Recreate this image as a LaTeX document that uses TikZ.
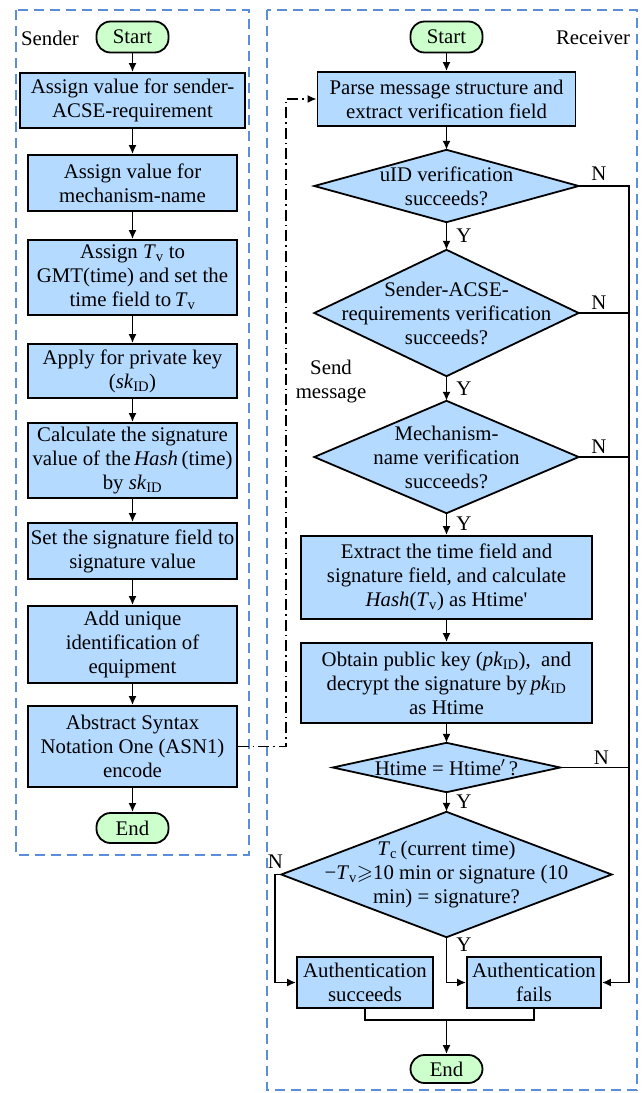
\documentclass[tikz,border=0pt]{standalone}
\usepackage{amssymb}
\usepackage{fontspec}
\setmainfont{Liberation Serif}
\usepackage{tikz}
\usetikzlibrary{positioning,arrows.meta,backgrounds}

\definecolor{procblue}{RGB}{180,218,255}
\definecolor{termgreen}{RGB}{204,255,204}
\definecolor{laneblue}{RGB}{90,142,216}

\tikzset{
  proc/.style={rectangle, draw, line width=1.8pt, fill=procblue, align=center, inner sep=2pt},
  term/.style={rectangle, rounded corners=14pt, draw, line width=1.8pt, fill=termgreen,
    minimum width=72pt, minimum height=31pt, inner sep=1pt},
  decide/.style={rectangle, align=center, inner sep=0pt},
  decfill/.style={draw, line width=1.8pt, fill=procblue, line join=miter},
  lane/.style={draw=laneblue, line width=1.6pt, dash pattern=on 10pt off 6pt},
  flow/.style={->, line width=1.7pt},
  plain/.style={line width=1.7pt},
  yn/.style={inner sep=2pt},
  sendline/.style={->, line width=1.7pt, dash pattern=on 11pt off 4pt on 1.5pt off 4pt},
}

\begin{document}
\begin{tikzpicture}[x=1pt, y=-1pt, >={Latex[length=9pt,width=8pt]},
    every node/.style={font=\fontsize{20.8}{24}\selectfont}]
  \useasboundingbox (0,0) rectangle (642,1093);

  % lanes
  \draw[lane] (16,10) rectangle (249,855);
  \draw[lane] (267,10) rectangle (637,1090);
  \node (sendertxt) at (50,38) {Sender};
  \node (recvtxt) at (593,38) {Receiver};

  % sender side
  \node[term] (sstart) at (132.5,37) {Start};
  \node[proc, minimum width=225pt, minimum height=55pt] (s1) at (132.5,100.5) {Assign value for sender-\\ACSE-requirement};
  \node[proc, minimum width=209pt, minimum height=56pt] (s2) at (132.5,183) {Assign value for\\mechanism-name};
  \node[proc, minimum width=209pt, minimum height=75pt] (s3) at (132.5,277.5) {Assign \textit{T}\textsubscript{v} to\\GMT(time) and set the\\time field to\,\textit{T}\textsubscript{v}};
  \node[proc, minimum width=209pt, minimum height=54pt] (s4) at (132.5,371) {Apply for private key\\(\textit{sk}\textsubscript{ID})};
  \node[proc, minimum width=209pt, minimum height=75pt] (s5) at (132.5,460.5) {Calculate the signature\\value of the\,\textit{Hash}\,(time)\\by \textit{sk}\textsubscript{ID}};
  \node[proc, minimum width=209pt, minimum height=56pt] (s6) at (132.5,551) {Set the signature field to\\signature value};
  \node[proc, minimum width=209pt, minimum height=77pt] (s7) at (132.5,644.5) {Add unique\\identification of\\equipment};
  \node[proc, minimum width=209pt, minimum height=81pt] (s8) at (132.5,746.5) {Abstract Syntax\\Notation One (ASN1)\\encode};
  \node[term, minimum height=30pt] (send) at (132.5,828) {End};

  % receiver side
  \node[term] (rstart) at (446.5,37) {Start};
  \node[proc, minimum width=258pt, minimum height=54pt] (r1) at (446.5,99) {Parse message structure and\\extract verification field};
  \node[decide, minimum width=264pt, minimum height=72pt] (d1) at (446.5,186) {uID verification\\succeeds?};
  \node[decide, minimum width=264pt, minimum height=126pt] (d2) at (446.5,313) {Sender-ACSE-\\requirements verification\\succeeds?};
  \node[decide, minimum width=264pt, minimum height=112pt] (d3) at (446.5,457) {Mechanism-\\name verification\\succeeds?};
  \node[proc, minimum width=291pt, minimum height=83pt] (r2) at (446.5,577.5) {Extract the time field and\\signature field, and calculate\\\textit{Hash}(\textit{T}\textsubscript{v}) as Htime\textquotesingle};
  \node[proc, minimum width=291pt, minimum height=80pt] (r3) at (446.5,683) {Obtain public key (\textit{pk}\textsubscript{ID}),~ and\\decrypt the signature by\,\textit{pk}\textsubscript{ID}\\as Htime};
  \node[decide, minimum width=227pt, minimum height=49pt] (d4) at (446.5,767.5) {Htime = Htime$'$\,?};
  \node[decide, minimum width=330pt, minimum height=125pt] (d5) at (446.5,874.5) {\textit{T}\textsubscript{c}\,(current time)\\−\textit{T}\textsubscript{v}$\geqslant$10 min or signature (10\\min) = signature?};
  \node[proc, minimum width=136pt, minimum height=51pt] (succ) at (365,982.5) {Authentication\\succeeds};
  \node[proc, minimum width=134pt, minimum height=51pt] (fail) at (534,982.5) {Authentication\\fails};
  \node[term, minimum height=28pt] (rend) at (446.5,1069) {End};

  \begin{scope}[on background layer]
    \foreach \d in {d1,d2,d3,d4,d5}
      \draw[decfill] (\d.north) -- (\d.east) -- (\d.south) -- (\d.west) -- cycle;
  \end{scope}

  \coordinate (ncorner) at (629,982.5);
  \coordinate (merge) at (446.5,1020);
  \coordinate (sm1) at (286,746.5);
  \coordinate (sm2) at (286,99);

  \path
    (sstart) edge[flow] (s1)
    (s1) edge[flow] (s2)
    (s2) edge[flow] (s3)
    (s3) edge[flow] (s4)
    (s4) edge[flow] (s5)
    (s5) edge[flow] (s6)
    (s6) edge[flow] (s7)
    (s7) edge[flow] (s8)
    (s8) edge[flow] (send)
    (rstart) edge[flow] (r1)
    (r1) edge[flow] (d1)
    (d1) edge[flow] node[yn, right=7pt] (y1) {Y} (d2)
    (d2) edge[flow] node[yn, right=7pt] (y2) {Y} (d3)
    (d3) edge[flow] node[yn, right=7pt] (y3) {Y} (r2)
    (r2) edge[flow] (r3)
    (r3) edge[flow] (d4)
    (d4) edge[flow] node[yn, right=7pt] (y4) {Y} (d5)
    ;

  % failure branch on the right
  \draw[flow] (d1.east) -- node[yn, above=3pt, pos=0.4] (n1) {N} (d1.east -| ncorner) -- (ncorner) -- (fail.east);
  \draw[plain] (d2.east) -- node[yn, above=1pt, pos=0.4] (n2) {N} (d2.east -| ncorner);
  \draw[plain] (d3.east) -- node[yn, above=1pt, pos=0.4] (n3) {N} (d3.east -| ncorner);
  \draw[plain] (d4.east) -- node[yn, above=0pt, pos=0.6] (n4) {N} (d4.east -| ncorner);

  % last decision
  \draw[flow] (d5.west) -- ++(-6,0) node[yn, above=3pt] (n5) {N} |- (succ.west);
  \draw[flow] (d5.south) |- node[yn, pos=0.08, right=7pt] (y5) {Y} (fail.west);
  \draw[plain] (succ.south) |- (merge) -| (fail.south);
  \draw[flow] (merge) -- (rend);

  % message sent to receiver
  \draw[sendline] (s8.east) -- (sm1) -- (sm2) -- (r1.west);
  \node[align=center] (sendlbl) at (331,382) {Send\\message};
\end{tikzpicture}
\end{document}
